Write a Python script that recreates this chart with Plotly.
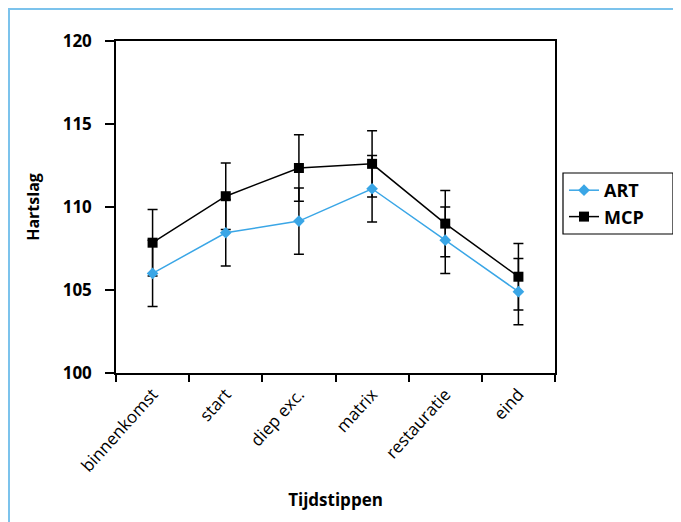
import plotly.graph_objects as go

categories = ["binnenkomst", "start", "diep exc.", "matrix", "restauratie", "eind"]
art_values = [106.0, 108.45, 109.15, 111.1, 108.0, 104.9]
mcp_values = [107.85, 110.65, 112.35, 112.6, 109.0, 105.8]
art_err = [2, 2, 2, 2, 2, 2]
mcp_err = [2, 2, 2, 2, 2, 2]
y_ticks = [100, 105, 110, 115, 120]

# page body has an 8px margin, so the figure is laid out 8px smaller
OFF = 8
W, H = 681 - OFF, 522 - OFF
L, T = 116 - OFF, 41 - OFF
pw, ph = 439, 332
R, B = W - L - pw, H - T - ph

def px_x(x):
    return (x - OFF - L) / pw

def px_y(y):
    return 1 - (y - OFF - T) / ph

FONT = "Open Sans"
BLUE = "#3aa6e6"
FRAME = "#7cc3ec"

fig = go.Figure()
fig.add_trace(go.Scatter(
    x=categories, y=mcp_values, name="MCP", mode="lines+markers",
    line=dict(color="black", width=1.5),
    marker=dict(symbol="square", size=10, color="black"),
    error_y=dict(type="data", array=mcp_err, color="black", thickness=1.5, width=5),
))
fig.add_trace(go.Scatter(
    x=categories, y=art_values, name="ART", mode="lines+markers",
    line=dict(color=BLUE, width=1.5),
    marker=dict(symbol="diamond", size=9, color=BLUE),
    error_y=dict(type="data", array=art_err, color="black", thickness=1.5, width=5),
))

fig.update_layout(
    width=W, height=H,
    margin=dict(l=L, r=R, t=T, b=B),
    paper_bgcolor="white", plot_bgcolor="white",
    font=dict(family=FONT, color="black"),
    showlegend=True,
    legend=dict(
        x=px_x(564), y=px_y(172), xanchor="left", yanchor="top",
        borderwidth=0, bgcolor="rgba(0,0,0,0)",
        font=dict(family=FONT, size=18, color="black", weight="bold"),
        traceorder="reversed", tracegroupgap=0,
    ),
    xaxis=dict(
        type="category", categoryorder="array", categoryarray=categories,
        range=[-0.5, 5.5],
        showline=True, linecolor="black", linewidth=1.5, mirror=True,
        ticks="outside", ticklen=7, tickcolor="black", tickwidth=1.5,
        tickson="boundaries", showgrid=False, zeroline=False,
        tickangle=-48, tickfont=dict(family=FONT, size=17, color="black"),
        ticklabelstandoff=3,
        title=dict(text="Tijdstippen", font=dict(family=FONT, size=17, weight="bold"), standoff=19),
    ),
    yaxis=dict(
        range=[100, 120], tickvals=y_ticks,
        showline=True, linecolor="black", linewidth=1.5, mirror=True,
        ticks="outside", ticklen=9, tickcolor="black", tickwidth=1.5,
        showgrid=False, zeroline=False,
        ticklabelstandoff=10,
        tickfont=dict(family=FONT, size=17, color="black", weight="bold"),
        title=dict(text="Hartslag", font=dict(family=FONT, size=16, weight="bold"), standoff=19),
    ),
    shapes=[
        dict(type="line", xref="paper", yref="paper", x0=px_x(8), x1=px_x(690), y0=px_y(9), y1=px_y(9),
             line=dict(color=FRAME, width=2)),
        dict(type="line", xref="paper", yref="paper", x0=px_x(9), x1=px_x(9), y0=px_y(9), y1=px_y(530),
             line=dict(color=FRAME, width=2)),
        dict(type="rect", xref="paper", yref="paper", x0=px_x(563), x1=px_x(673), y0=px_y(234), y1=px_y(173),
             line=dict(color="black", width=1.2), fillcolor="rgba(0,0,0,0)"),
    ],
)

fig.write_html("out.html")
